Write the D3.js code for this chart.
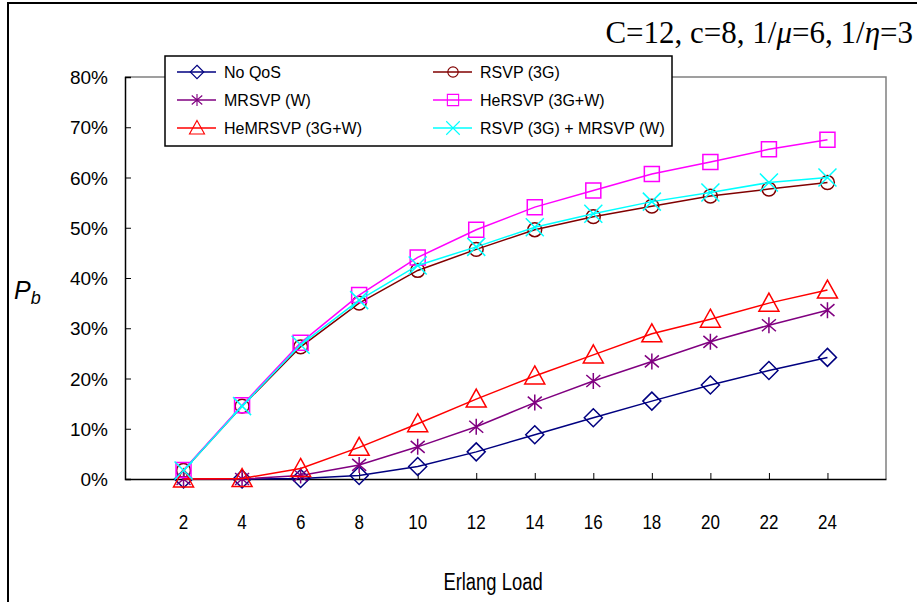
<!DOCTYPE html>
<html>
<head>
<meta charset="utf-8">
<title>Erlang Load vs Pb</title>
<script src="https://d3js.org/d3.v7.min.js"></script>
<style>
  body { margin: 0; background: #fff; }
  #plot { width: 917px; height: 602px; }
  text { font-family: "Liberation Sans", Arial, sans-serif; }
</style>
</head>
<body>
<div id="plot"></div>
<script>
// data
var loads = [2, 4, 6, 8, 10, 12, 14, 16, 18, 20, 22, 24]
var noQos     = [0, 0, 0.001, 0.007, 0.025, 0.054, 0.088, 0.122, 0.155, 0.187, 0.216, 0.242]
var rsvp3g    = [0.017, 0.145, 0.263, 0.350, 0.415, 0.457, 0.496, 0.522, 0.543, 0.563, 0.577, 0.590]
var mrsvpW    = [0, 0, 0.007, 0.028, 0.064, 0.104, 0.152, 0.195, 0.234, 0.273, 0.306, 0.336]
var hersvp    = [0.018, 0.147, 0.271, 0.366, 0.441, 0.496, 0.541, 0.574, 0.607, 0.631, 0.656, 0.675]
var hemrsvp   = [0, 0.001, 0.021, 0.063, 0.110, 0.159, 0.205, 0.247, 0.289, 0.318, 0.350, 0.376]
var rsvpMrsvp = [0.017, 0.145, 0.267, 0.356, 0.425, 0.462, 0.501, 0.528, 0.552, 0.570, 0.590, 0.600]
var yTicks = [0, 0.1, 0.2, 0.3, 0.4, 0.5, 0.6, 0.7, 0.8]

var series = [
  {name: 'No QoS', vals: noQos, color: '#000080', marker: 'diamond'},
  {name: 'RSVP (3G)', vals: rsvp3g, color: '#800000', marker: 'circle'},
  {name: 'MRSVP (W)', vals: mrsvpW, color: '#800080', marker: 'star'},
  {name: 'HeRSVP (3G+W)', vals: hersvp, color: '#FF00FF', marker: 'square'},
  {name: 'HeMRSVP (3G+W)', vals: hemrsvp, color: '#FF0000', marker: 'triangle'},
  {name: 'RSVP (3G) + MRSVP (W)', vals: rsvpMrsvp, color: '#00FFFF', marker: 'cross'}
]

var W = 917, H = 602
var plot = {left: 125, right: 886, top: 77, bottom: 479}

var svg = d3.select('#plot').append('svg')
  .attr('width', W)
  .attr('height', H)

// squeeze text horizontally, the original font is narrower
function condense(sel, k) {
  sel.each(function(){
    var w = this.getComputedTextLength()
    d3.select(this).attr('textLength', w * k).attr('lengthAdjust', 'spacingAndGlyphs')
  })
}

// outer chart frame
svg.append('rect')
  .attr('x', 8).attr('y', 3)
  .attr('width', 1000).attr('height', 700)
  .attr('fill', 'none').attr('stroke', '#000').attr('stroke-width', 2)

var xScale = d3.scaleLinear().domain([0, 26]).range([plot.left, plot.right])
var yScale = d3.scaleLinear().domain([0, 0.8]).range([plot.bottom, plot.top])

// plot border (top/right grey)
svg.append('path')
  .attr('d', 'M' + plot.left + ',' + plot.top + 'H' + plot.right + 'V' + plot.bottom)
  .attr('fill', 'none').attr('stroke', '#808080').attr('stroke-width', 1.5)

// y axis
var yAxis = svg.append('g')
  .attr('transform', 'translate(' + plot.left + ',0)')
  .call(d3.axisRight(yScale).tickValues(yTicks).tickSize(6).tickFormat(''))
yAxis.select('.domain').attr('stroke', '#000').attr('stroke-width', 1.5)
yAxis.selectAll('.tick line').attr('stroke', '#000')

svg.selectAll('.ylab')
  .data(yTicks).enter()
  .append('text')
    .attr('class', 'ylab')
    .attr('x', 108)
    .attr('y', function(d){ return yScale(d) + 7 })
    .attr('text-anchor', 'end')
    .style('font-size', '19px')
    .text(function(d){ return d3.format('.0%')(d) })

// x axis
var xAxis = svg.append('g')
  .attr('transform', 'translate(0,' + plot.bottom + ')')
  .call(d3.axisTop(xScale).tickValues(loads).tickSize(6).tickFormat('').tickSizeOuter(0))
xAxis.select('.domain').attr('stroke', '#000').attr('stroke-width', 1.5)
xAxis.selectAll('.tick line').attr('stroke', '#000')

svg.selectAll('.xlab')
  .data(loads).enter()
  .append('text')
    .attr('class', 'xlab')
    .attr('x', function(d){ return xScale(d) })
    .attr('y', 529)
    .attr('text-anchor', 'middle')
    .style('font-size', '20px')
    .text(function(d){ return d })
    .call(condense, 0.85)

svg.append('text')
  .attr('x', 493).attr('y', 590)
  .attr('text-anchor', 'middle')
  .style('font-size', '23px')
  .text('Erlang Load')
  .call(condense, 0.8)

// P_b label
var pb = svg.append('text')
  .attr('x', 14).attr('y', 299)
  .style('font-size', '25px')
  .style('font-style', 'italic')
pb.append('tspan').text('P')
pb.append('tspan').attr('dy', 5).style('font-size', '18px').text('b')

// parameter text
var par = svg.append('text')
  .attr('x', 913).attr('y', 43)
  .attr('text-anchor', 'end')
  .style('font-family', '"Liberation Serif", "Times New Roman", serif')
  .style('font-size', '31px')
par.append('tspan').text('C=12, c=8, 1/')
par.append('tspan').style('font-style', 'italic').text('\u03bc')
par.append('tspan').text('=6, 1/')
par.append('tspan').style('font-style', 'italic').text('\u03b7')
par.append('tspan').text('=3')

function drawMarker(g, type, color) {
  var p = g.append('path').attr('fill', 'none').attr('stroke', color).attr('stroke-width', 1.5)
  if (type == 'diamond') p.attr('d', 'M0,-9L9,0L0,9L-9,0Z')
  if (type == 'circle') p.attr('d', d3.symbol(d3.symbolCircle, 150)())
  if (type == 'square') p.attr('d', 'M-7.5,-7.5H7.5V7.5H-7.5Z')
  if (type == 'triangle') p.attr('d', 'M0,-10L10,8H-10Z')
  if (type == 'star') p.attr('d', 'M0,-8V8M-7,-6L7,6M-7,6L7,-6')
  if (type == 'cross') p.attr('d', 'M-9,-9L9,9M-9,9L9,-9')
}

var line = d3.line()
  .x(function(d, i){ return xScale(loads[i]) })
  .y(function(d){ return yScale(d) })

series.forEach(function(s){
  svg.append('path')
    .attr('d', line(s.vals))
    .attr('fill', 'none')
    .attr('stroke', s.color)
    .attr('stroke-width', 1.5)
  s.vals.forEach(function(v, i){
    var g = svg.append('g').attr('transform', 'translate(' + xScale(loads[i]) + ',' + yScale(v) + ')')
    drawMarker(g, s.marker, s.color)
  })
})

// legend
var legend = svg.append('g')
legend.append('rect')
  .attr('x', 165).attr('y', 56)
  .attr('width', 507).attr('height', 90)
  .attr('fill', '#fff').attr('stroke', '#000').attr('stroke-width', 1.5)

var legCols = [177, 433], legRows = [72, 100, 128]
series.forEach(function(s, i){
  var lx = legCols[i % 2], ly = legRows[Math.floor(i / 2)]
  var g = legend.append('g')
  g.append('line')
    .attr('x1', lx).attr('x2', lx + 39)
    .attr('y1', ly).attr('y2', ly)
    .attr('stroke', s.color).attr('stroke-width', 1.5)
  var m = g.append('g').attr('transform', 'translate(' + (lx + 20) + ',' + ly + ') scale(0.75)')
  drawMarker(m, s.marker, s.color)
  g.append('text')
    .attr('x', lx + 47).attr('y', ly + 6)
    .style('font-size', '16px')
    .text(s.name)
})
</script>
</body>
</html>
